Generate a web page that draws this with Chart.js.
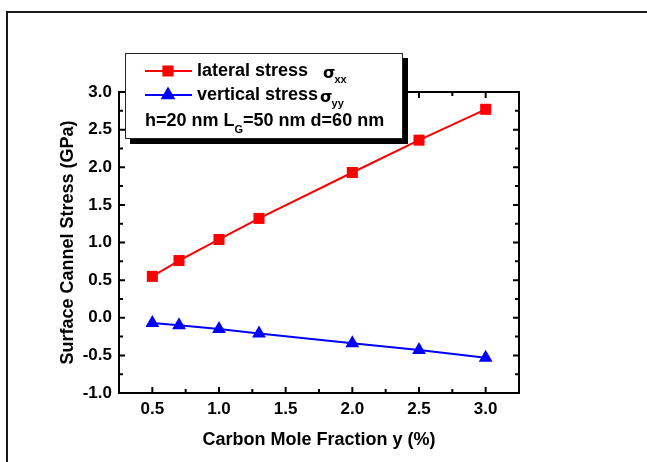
<!DOCTYPE html>
<html><head><meta charset="utf-8">
<script src="https://cdn.jsdelivr.net/npm/chart.js@4/dist/chart.umd.min.js"></script>
<style>html,body{margin:0;padding:0;background:#fff}#wrap{position:relative;width:647px;height:462px}</style>
</head><body><div id="wrap"><canvas id="c" width="647" height="462"></canvas></div>
<script>
const xValues = [0.5, 0.7, 1.0, 1.3, 2.0, 2.5, 3.0];
const lateralStress = [0.55, 0.76, 1.04, 1.32, 1.93, 2.36, 2.77];
const verticalStress = [-0.07, -0.10, -0.15, -0.21, -0.34, -0.43, -0.53];
const xTicks = [0.5, 1.0, 1.5, 2.0, 2.5, 3.0];
const yTicks = [-1.0, -0.5, 0.0, 0.5, 1.0, 1.5, 2.0, 2.5, 3.0];
const xMinorTicks = [0.25, 0.75, 1.25, 1.75, 2.25, 2.75, 3.25];
const yMinorTicks = [-0.75, -0.25, 0.25, 0.75, 1.25, 1.75, 2.25, 2.75];
const xTitle = 'Carbon Mole Fraction y (%)';
const yTitle = 'Surface Cannel Stress (GPa)';
const legendLabels = ['lateral stress', 'vertical stress'];
const legendSymbol = 'σ';
const legendSubs = ['xx', 'yy'];
const noteParts = ['h=20 nm L', 'G', '=50 nm d=60 nm'];

const FONT = '"Liberation Sans", Arial, sans-serif';
const RED = '#ff0000', BLUE = '#0000ff';

const toPts = (xs, ys) => xs.map((x, i) => ({x: x, y: ys[i]}));

const framePlugin = {
  id: 'frame',
  beforeDraw(chart) {
    const ctx = chart.ctx;
    ctx.save();
    ctx.strokeStyle = '#1a1a1a';
    ctx.lineWidth = 2;
    ctx.beginPath();
    ctx.moveTo(7, 470); ctx.lineTo(7, 12); ctx.lineTo(660, 12);
    ctx.stroke();
    ctx.restore();
  },
  afterDatasetsDraw(chart) {
    const {ctx, chartArea: a, scales: {x, y}} = chart;
    ctx.save();
    ctx.strokeStyle = '#000';
    ctx.lineWidth = 2;
    ctx.beginPath();
    const tick = (v, len, isX) => {
      if (isX) {
        const p = x.getPixelForValue(v);
        ctx.moveTo(p, a.bottom); ctx.lineTo(p, a.bottom - len);
        ctx.moveTo(p, a.top); ctx.lineTo(p, a.top + len);
      } else {
        const p = y.getPixelForValue(v);
        ctx.moveTo(a.left, p); ctx.lineTo(a.left + len, p);
        ctx.moveTo(a.right, p); ctx.lineTo(a.right - len, p);
      }
    };
    xTicks.forEach(v => tick(v, 6, true));
    xMinorTicks.forEach(v => tick(v, 4, true));
    yTicks.forEach(v => tick(v, 6, false));
    yMinorTicks.forEach(v => tick(v, 4, false));
    ctx.stroke();
    ctx.strokeRect(a.left, a.top, a.right - a.left, a.bottom - a.top);
    ctx.restore();
  },
  afterDraw(chart) {
    const ctx = chart.ctx;
    const ds = chart.data.datasets;
    ctx.save();
    // shadow + box
    ctx.fillStyle = '#000';
    ctx.fillRect(130, 58, 278, 86);
    ctx.fillStyle = '#fff';
    ctx.fillRect(125, 53, 278, 86);
    ctx.strokeStyle = '#222';
    ctx.lineWidth = 1;
    ctx.strokeRect(125.5, 53.5, 277, 85);
    const rows = [71, 95];
    rows.forEach((ry, i) => {
      const d = ds[i];
      ctx.strokeStyle = d.borderColor;
      ctx.lineWidth = 2;
      ctx.beginPath(); ctx.moveTo(145, ry); ctx.lineTo(192, ry); ctx.stroke();
      ctx.fillStyle = d.backgroundColor;
      Chart.helpers.drawPoint(ctx, {pointStyle: d.pointStyle, radius: 6.5, borderWidth: 1}, 168, ry);
      ctx.fillStyle = '#000';
      ctx.textBaseline = 'middle';
      ctx.textAlign = 'left';
      ctx.font = 'bold 18px ' + FONT;
      ctx.fillText(legendLabels[i], 197, ry);
      let sx = i === 0 ? 323 : 197 + ctx.measureText(legendLabels[i]).width + 2;
      ctx.font = 'bold 16px "DejaVu Sans", ' + FONT;
      ctx.fillText(legendSymbol, sx, ry + 3);
      sx += ctx.measureText(legendSymbol).width - 1;
      ctx.font = 'bold 11px ' + FONT;
      ctx.fillText(legendSubs[i], sx, ry + 9);
    });
    let nx = 145, ny = 121;
    ctx.font = 'bold 18px ' + FONT;
    ctx.fillText(noteParts[0], nx, ny);
    nx += ctx.measureText(noteParts[0]).width;
    ctx.font = 'bold 11px ' + FONT;
    ctx.fillText(noteParts[1], nx, ny + 9);
    nx += ctx.measureText(noteParts[1]).width;
    ctx.font = 'bold 18px ' + FONT;
    ctx.fillText(noteParts[2], nx, ny);
    ctx.restore();
  }
};

new Chart(document.getElementById('c'), {
  type: 'scatter',
  data: {
    datasets: [
      {label: legendLabels[0], data: toPts(xValues, lateralStress), showLine: true,
       borderColor: RED, backgroundColor: RED, borderWidth: 2, pointStyle: 'rect',
       pointRadius: 7.8, pointHoverRadius: 7.8, pointBorderWidth: 0},
      {label: legendLabels[1], data: toPts(xValues, verticalStress), showLine: true,
       borderColor: BLUE, backgroundColor: BLUE, borderWidth: 2, pointStyle: 'triangle',
       pointRadius: 8, pointHoverRadius: 8, pointBorderWidth: 0}
    ]
  },
  options: {
    responsive: false,
    devicePixelRatio: 1,
    animation: false,
    events: [],
    clip: false,
    layout: {autoPadding: false, padding: {left: 0, top: 92, right: 128, bottom: 0}},
    plugins: {legend: {display: false}, tooltip: {enabled: false}},
    scales: {
      x: {
        type: 'linear', min: 0.25, max: 3.25,
        afterBuildTicks: s => { s.ticks = xTicks.map(v => ({value: v})); },
        afterFit: s => { s.height = 69; },
        grid: {display: false, drawTicks: false},
        border: {display: false},
        ticks: {color: '#000', padding: 6, font: {family: FONT, size: 17, weight: 'bold'},
                callback: v => v.toFixed(1)},
        title: {display: true, text: xTitle, color: '#000', padding: {top: 0, bottom: 11},
                font: {family: FONT, size: 18, weight: 'bold'}}
      },
      y: {
        type: 'linear', min: -1.0, max: 3.0,
        afterBuildTicks: s => { s.ticks = yTicks.map(v => ({value: v})); },
        afterFit: s => { s.width = 119; },
        grid: {display: false, drawTicks: false},
        border: {display: false},
        ticks: {color: '#000', padding: 7, font: {family: FONT, size: 17, weight: 'bold'},
                callback: v => v.toFixed(1)},
        title: {display: true, text: yTitle, color: '#000', padding: {top: 57, bottom: 0},
                font: {family: FONT, size: 18, weight: 'bold'}}
      }
    }
  },
  plugins: [framePlugin]
});
</script>
</body></html>
